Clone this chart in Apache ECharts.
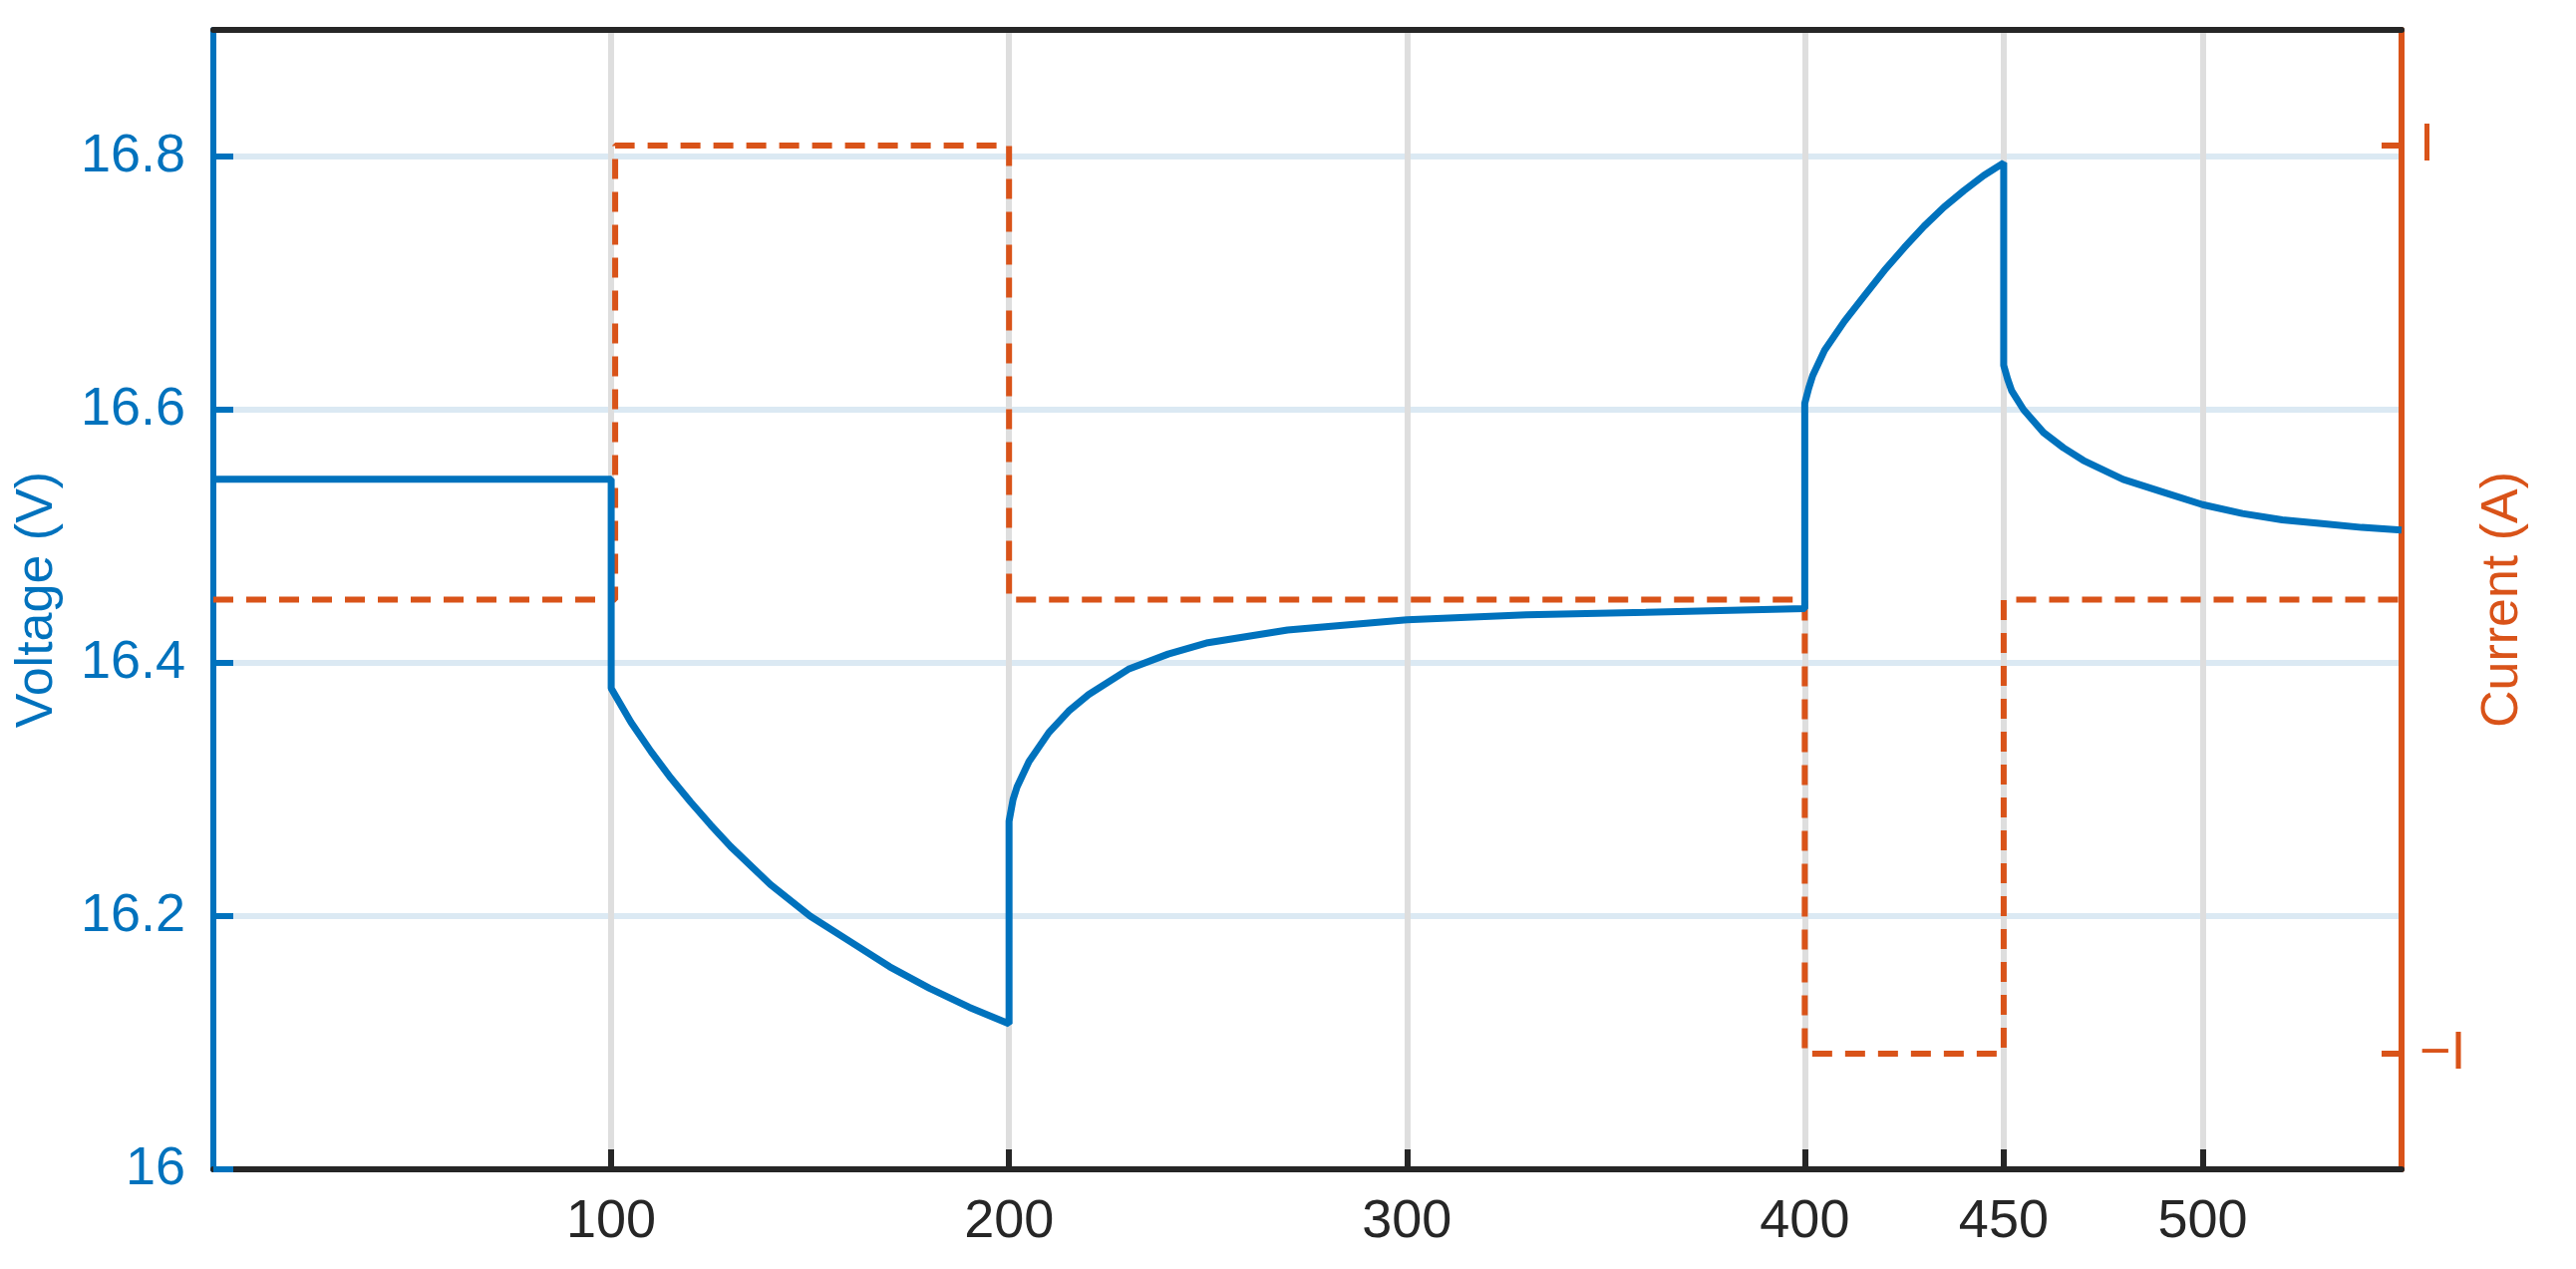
<!DOCTYPE html>
<html><head><meta charset="utf-8">
<script src="https://cdn.jsdelivr.net/npm/echarts@6/dist/echarts.min.js"></script>
<style>html,body{margin:0;padding:0;background:#fff}#c{width:2584px;height:1273px}</style>
</head><body><div id="c"></div>
<script>
const xTicks = [100, 200, 300, 400, 450, 500];
const vTicks = [16, 16.2, 16.4, 16.6, 16.8];
const iTicks = [-1, 1];
const voltageT = [0, 100, 100, 105, 110, 115, 120, 125, 130, 140, 150, 160, 170, 180, 190, 200,
  200, 201, 202, 205, 210, 215, 220, 230, 240, 250, 270, 300, 330, 360, 400,
  400, 401, 402, 405, 410, 415, 420, 425, 430, 435, 440, 445, 450,
  450, 451, 452, 455, 460, 465, 470, 480, 490, 500, 510, 520, 530, 540, 550];
const voltageV = [16.545, 16.545, 16.38, 16.353, 16.33, 16.309, 16.29, 16.272, 16.255, 16.225, 16.2, 16.18, 16.16, 16.143, 16.128, 16.115,
  16.275, 16.292, 16.302, 16.322, 16.345, 16.362, 16.375, 16.395, 16.407, 16.416, 16.426, 16.434, 16.438, 16.44, 16.443,
  16.605, 16.617, 16.627, 16.647, 16.67, 16.69, 16.71, 16.728, 16.745, 16.76, 16.773, 16.785, 16.795,
  16.635, 16.624, 16.615, 16.6, 16.582, 16.57, 16.56, 16.545, 16.535, 16.525, 16.518, 16.513, 16.51, 16.507, 16.505];
const currentT = [0, 101, 101, 200, 200, 400, 400, 450, 450, 550];
const currentV = [0, 0, 1, 1, 0, 0, -1, -1, 0, 0];

const blue = '#0072BD', orange = '#D95319', dark = '#262626';
const font = 'Arial, Liberation Sans, Helvetica, sans-serif';
const chart = echarts.init(document.getElementById('c'));
chart.setOption({
  animation: false,
  grid: {left: 214, right: 175, top: 30, bottom: 100},
  xAxis: [{
    type: 'value', min: 0, max: 550,
    axisLine: {onZero: false, lineStyle: {color: dark, width: 6}},
    axisTick: {inside: true, length: 20, lineStyle: {color: dark, width: 6}, customValues: xTicks},
    axisLabel: {customValues: xTicks, color: dark, fontSize: 54, fontFamily: font, margin: 26},
    splitLine: {show: true, lineStyle: {color: '#dedede', width: 6}}
  }, {
    type: 'value', min: 0, max: 550, position: 'top',
    axisLine: {show: true, onZero: false, lineStyle: {color: dark, width: 6}},
    axisTick: {show: false}, axisLabel: {show: false}, splitLine: {show: false}
  }],
  yAxis: [{
    type: 'value', min: 16, max: 16.9, position: 'left',
    name: 'Voltage (V)', nameLocation: 'middle', nameGap: 150, nameRotate: 90,
    nameTextStyle: {color: blue, fontSize: 52, fontFamily: font},
    axisLine: {show: true, onZero: false, lineStyle: {color: blue, width: 6}},
    axisTick: {show: true, inside: true, length: 20, lineStyle: {color: blue, width: 6}, customValues: vTicks},
    axisLabel: {customValues: vTicks, color: blue, fontSize: 54, fontFamily: font, margin: 28,
      formatter: v => (Math.round(v * 10) / 10).toString()},
    splitLine: {show: true, lineStyle: {color: '#dbe9f3', width: 6}}
  }, {
    type: 'value', min: -1.255, max: 1.255, position: 'right',
    name: 'Current (A)', nameLocation: 'middle', nameGap: 65, nameRotate: 90,
    nameTextStyle: {color: orange, fontSize: 52, fontFamily: font},
    axisLine: {show: true, onZero: false, lineStyle: {color: orange, width: 6}},
    axisTick: {show: true, inside: true, length: 20, lineStyle: {color: orange, width: 6}, customValues: iTicks},
    axisLabel: {customValues: iTicks, color: orange, fontSize: 54, fontFamily: font, margin: 18,
      formatter: v => v > 0 ? 'I' : '\u2212I'},
    splitLine: {show: false}
  }],
  series: [{
    type: 'line', yAxisIndex: 1, showSymbol: false, z: 2,
    data: currentT.map((t, i) => [t, currentV[i]]),
    lineStyle: {color: orange, width: 6, type: [20, 13]}
  }, {
    type: 'line', yAxisIndex: 0, showSymbol: false, z: 3,
    data: voltageT.map((t, i) => [t, voltageV[i]]),
    lineStyle: {color: blue, width: 7}
  }]
});
</script></body></html>
